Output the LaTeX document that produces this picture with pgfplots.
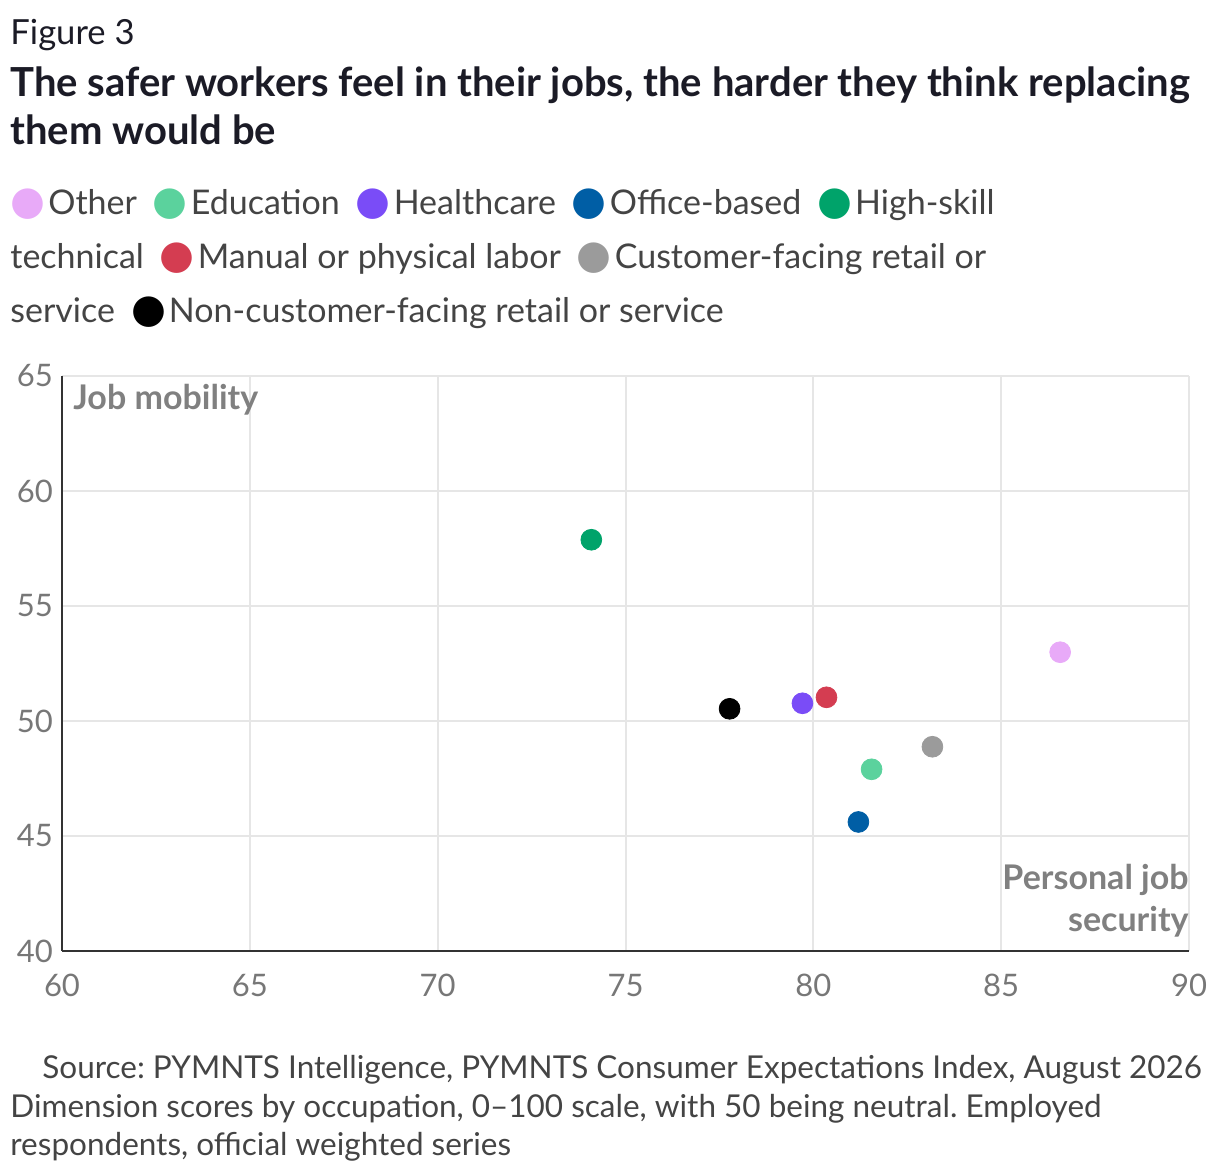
\documentclass[border=0pt]{standalone}
\usepackage{pgfplots}
\pgfplotsset{compat=1.18}
\usepackage{fontspec}
\setmainfont{Lato}
\newfontfamily\symfont{DejaVu Sans}
\frenchspacing
\definecolor{cOther}{HTML}{E8AAF8}
\definecolor{cEdu}{HTML}{5BD29D}
\definecolor{cHealth}{HTML}{7A4CF7}
\definecolor{cOffice}{HTML}{005EA5}
\definecolor{cHigh}{HTML}{00A36A}
\definecolor{cManual}{HTML}{D43D51}
\definecolor{cCust}{HTML}{9B9B9B}
\definecolor{cNon}{HTML}{000000}
\definecolor{txt}{HTML}{444444}
\definecolor{ttl}{HTML}{1B1B26}
\definecolor{tick}{HTML}{777777}
\definecolor{lab}{HTML}{808080}
\definecolor{gridc}{HTML}{E6E6E6}
\newcommand{\legdot}[1]{{\symfont\fontsize{20}{20}\selectfont\textcolor{#1}{●}}\hspace{1.5pt}}
\newcommand{\gap}{\hspace{8pt}}
\begin{document}
\begin{tikzpicture}
\path[use as bounding box] (0,0) rectangle (610pt,586pt);
\node[anchor=base west, inner sep=0pt, text=ttl] at (5pt,563.5pt) {\fontsize{17.3}{20}\selectfont Figure 3};
\node[anchor=base west, inner sep=0pt, text=ttl] at (5pt,537.5pt)
  {\parbox[t]{605pt}{\raggedright\fontsize{20}{24}\selectfont\bfseries The safer workers feel in their jobs, the harder they think replacing them would be\par}};
\node[anchor=base west, inner sep=0pt, text=txt] at (5pt,478.5pt)
  {\parbox[t]{525pt}{\raggedright\fontsize{17}{27}\selectfont
  \legdot{cOther}Other\gap \legdot{cEdu}Education\gap \legdot{cHealth}Healthcare\gap \legdot{cOffice}Office-based\gap \legdot{cHigh}High-skill technical\gap \legdot{cManual}Manual or physical labor\gap \legdot{cCust}Customer-facing retail or service\gap \legdot{cNon}Non-customer-facing retail or service\par}};
\begin{axis}[
  scale only axis,
  width=563.5pt, height=287.5pt,
  at={(31pt,110.5pt)}, anchor=south west,
  xmin=60, xmax=90, ymin=40, ymax=65,
  xtick={60,65,...,90}, ytick={40,45,...,65},
  axis x line*=bottom, axis y line*=left,
  axis line style={draw=black!80, line width=1pt, -},
  major tick length=0pt,
  grid=major,
  major grid style={draw=gridc, line width=1pt},
  tick label style={text=tick, font=\fontsize{15.5}{15.5}\selectfont},
  /pgf/number format/assume math mode=true,
  xticklabel style={yshift=-8pt},
  yticklabel style={xshift=-1pt},
  clip=false,
]
\addplot[only marks, mark=*, mark size=5.2pt, color=cOther] coordinates {(86.57,52.99)};
\addplot[only marks, mark=*, mark size=5.2pt, color=cEdu] coordinates {(81.55,47.90)};
\addplot[only marks, mark=*, mark size=5.2pt, color=cHealth] coordinates {(79.71,50.77)};
\addplot[only marks, mark=*, mark size=5.2pt, color=cOffice] coordinates {(81.20,45.61)};
\addplot[only marks, mark=*, mark size=5.2pt, color=cHigh] coordinates {(74.09,57.88)};
\addplot[only marks, mark=*, mark size=5.2pt, color=cManual] coordinates {(80.35,51.03)};
\addplot[only marks, mark=*, mark size=5.2pt, color=cCust] coordinates {(83.17,48.88)};
\addplot[only marks, mark=*, mark size=5.2pt, color=cNon] coordinates {(77.77,50.53)};
\node[anchor=base west, inner sep=0pt, text=lab, font=\fontsize{17}{20}\selectfont\bfseries] at ([xshift=5.5pt,yshift=-17pt]rel axis cs:0,1) {Job mobility};
\node[anchor=base east, inner sep=0pt, text=lab, font=\fontsize{17}{20}\selectfont\bfseries] at ([yshift=30.5pt]rel axis cs:1,0) {Personal job};
\node[anchor=base east, inner sep=0pt, text=lab, font=\fontsize{17}{20}\selectfont\bfseries] at ([yshift=9.5pt]rel axis cs:1,0) {security};
\end{axis}
\node[anchor=base west, inner sep=0pt, text=txt] at (5pt,46.5pt)
  {\parbox[t]{605pt}{\raggedright\fontsize{15.75}{19.2}\selectfont\hspace*{16pt}Source: PYMNTS Intelligence, PYMNTS Consumer Expectations Index, August 2026\\Dimension scores by occupation, 0–100 scale, with 50 being neutral. Employed respondents, official weighted series\par}};
\end{tikzpicture}
\end{document}
